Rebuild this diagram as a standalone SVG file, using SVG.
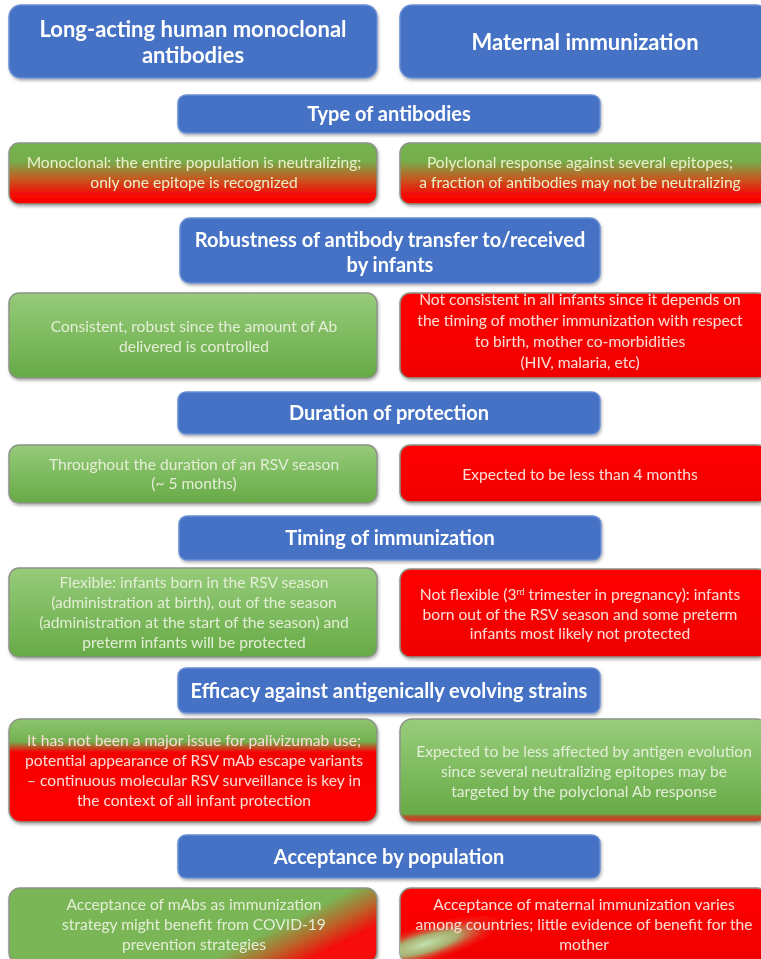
<svg xmlns="http://www.w3.org/2000/svg" width="761" height="959" viewBox="0 0 761 959">
<defs>
<style>
.hdr{fill:#4472c4;stroke:#6a8fd4;stroke-width:1.5}
.bx{stroke:#8c9486;stroke-width:1.5}
.ht{font-family:Lato,"Liberation Sans",sans-serif;font-weight:bold;fill:#ffffff;text-anchor:middle}
.h1{font-size:22px}
.h2{font-size:20px}
.bt{font-family:Lato,"Liberation Sans",sans-serif;font-size:15.6px;text-anchor:middle}
.tg{fill:#e3eed6}
.tr{fill:#fbdcd6}
.ty{fill:#ecefc8}
</style>
<linearGradient id="gGreen" x1="0" y1="0" x2="0" y2="1">
<stop offset="0" stop-color="#96cb7a"/>
<stop offset="1" stop-color="#67aa46"/>
</linearGradient>
<linearGradient id="gRed" x1="0" y1="0" x2="0" y2="1">
<stop offset="0" stop-color="#ff0606"/>
<stop offset="1" stop-color="#f00000"/>
</linearGradient>
<linearGradient id="gGR" x1="0" y1="0" x2="0" y2="1">
<stop offset="0" stop-color="#74b450"/>
<stop offset="0.3" stop-color="#76ad4c"/>
<stop offset="0.6" stop-color="#c8561f"/>
<stop offset="0.85" stop-color="#f30a06"/>
<stop offset="1" stop-color="#ff0000"/>
</linearGradient>
<linearGradient id="gEffL" x1="0" y1="0" x2="0" y2="1">
<stop offset="0" stop-color="#8fc670"/>
<stop offset="0.22" stop-color="#72b04f"/>
<stop offset="0.32" stop-color="#f50404"/>
<stop offset="1" stop-color="#ff0000"/>
</linearGradient>
<linearGradient id="gEffR" x1="0" y1="0" x2="0" y2="1">
<stop offset="0" stop-color="#98cd7c"/>
<stop offset="0.92" stop-color="#68ab47"/>
<stop offset="0.95" stop-color="#b4532b"/>
<stop offset="1" stop-color="#d23a22"/>
</linearGradient>
<linearGradient id="gAccL" gradientUnits="userSpaceOnUse" x1="426" y1="852" x2="446" y2="892">
<stop offset="0" stop-color="#7ab656"/>
<stop offset="0.5" stop-color="#b7672a"/>
<stop offset="1" stop-color="#f80808"/>
</linearGradient>
<radialGradient id="gAccR" cx="0.5" cy="0.5" r="0.5">
<stop offset="0" stop-color="#c2e2ae" stop-opacity="1"/>
<stop offset="0.4" stop-color="#9ccb82" stop-opacity="0.85"/>
<stop offset="1" stop-color="#ff0000" stop-opacity="0"/>
</radialGradient>
<filter id="sh" x="-5%" y="-10%" width="110%" height="130%">
<feDropShadow dx="1" dy="2" stdDeviation="1.5" flood-color="#000000" flood-opacity="0.3"/>
</filter>
<clipPath id="cAccR"><rect x="400" y="888" width="368" height="75" rx="11"/></clipPath>
</defs>
<rect width="761" height="959" fill="#ffffff"/>

<g id="mabs-title" filter="url(#sh)">
<rect class="hdr" x="9" y="5" width="368" height="73" rx="12"/>
<text class="ht h1" x="193" y="37">Long-acting human monoclonal</text>
<text class="ht h1" x="193" y="63">antibodies</text>
</g>
<g id="maternal-title" filter="url(#sh)">
<rect class="hdr" x="400" y="5" width="368" height="73" rx="12"/>
<text class="ht h1" x="585" y="50">Maternal immunization</text>
</g>

<g id="type-header" filter="url(#sh)">
<rect class="hdr" x="178" y="95" width="422" height="38" rx="8"/>
<text class="ht h2" x="389" y="121">Type of antibodies</text>
</g>
<g id="type-left" filter="url(#sh)">
<rect class="bx" x="9" y="143" width="368" height="61" rx="10" fill="url(#gGR)"/>
<text class="bt ty" x="194" y="168">Monoclonal: the entire population is neutralizing;</text>
<text class="bt ty" x="194" y="188">only one epitope is recognized</text>
</g>
<g id="type-right" filter="url(#sh)">
<rect class="bx" x="400" y="143" width="368" height="61" rx="10" fill="url(#gGR)"/>
<text class="bt ty" x="580" y="168">Polyclonal response against several epitopes;</text>
<text class="bt ty" x="580" y="188">a fraction of antibodies may not be neutralizing</text>
</g>

<g id="robust-header" filter="url(#sh)">
<rect class="hdr" x="180" y="218" width="420" height="65" rx="10"/>
<text class="ht h2" x="390" y="247">Robustness of antibody transfer to/received</text>
<text class="ht h2" x="390" y="272">by infants</text>
</g>
<g id="robust-left" filter="url(#sh)">
<rect class="bx" x="9" y="293" width="368" height="85" rx="10" fill="url(#gGreen)"/>
<text class="bt tg" x="194" y="332">Consistent, robust since the amount of Ab</text>
<text class="bt tg" x="194" y="352">delivered is controlled</text>
</g>
<g id="robust-right" filter="url(#sh)">
<rect class="bx" x="400" y="293" width="368" height="85" rx="10" fill="url(#gRed)"/>
<text class="bt tr" x="580" y="305">Not consistent in all infants since it depends on</text>
<text class="bt tr" x="580" y="326">the timing of mother immunization with respect</text>
<text class="bt tr" x="580" y="347">to birth, mother co-morbidities</text>
<text class="bt tr" x="580" y="368">(HIV, malaria, etc)</text>
</g>

<g id="duration-header" filter="url(#sh)">
<rect class="hdr" x="178" y="392" width="422" height="42" rx="8"/>
<text class="ht h2" x="389" y="420">Duration of protection</text>
</g>
<g id="duration-left" filter="url(#sh)">
<rect class="bx" x="9" y="445" width="368" height="58" rx="10" fill="url(#gGreen)"/>
<text class="bt tg" x="194" y="470">Throughout the duration of an RSV season</text>
<text class="bt tg" x="194" y="489">(~ 5 months)</text>
</g>
<g id="duration-right" filter="url(#sh)">
<rect class="bx" x="400" y="445" width="368" height="57" rx="10" fill="url(#gRed)"/>
<text class="bt tr" x="580" y="480">Expected to be less than 4 months</text>
</g>

<g id="timing-header" filter="url(#sh)">
<rect class="hdr" x="179" y="516" width="422" height="44" rx="8"/>
<text class="ht h2" x="390" y="545">Timing of immunization</text>
</g>
<g id="timing-left" filter="url(#sh)">
<rect class="bx" x="9" y="568" width="368" height="89" rx="10" fill="url(#gGreen)"/>
<text class="bt tg" x="194" y="588">Flexible: infants born in the RSV season</text>
<text class="bt tg" x="194" y="608">(administration at birth), out of the season</text>
<text class="bt tg" x="194" y="628">(administration at the start of the season) and</text>
<text class="bt tg" x="194" y="648">preterm infants will be protected</text>
</g>
<g id="timing-right" filter="url(#sh)">
<rect class="bx" x="400" y="569" width="368" height="88" rx="10" fill="url(#gRed)"/>
<text class="bt tr" x="580" y="600">Not flexible (3<tspan font-size="9" dy="-5">rd</tspan><tspan dy="5"> trimester in pregnancy): infants</tspan></text>
<text class="bt tr" x="580" y="620">born out of the RSV season and some preterm</text>
<text class="bt tr" x="580" y="639">infants most likely not protected</text>
</g>

<g id="efficacy-header" filter="url(#sh)">
<rect class="hdr" x="178" y="668" width="422" height="45" rx="8"/>
<text class="ht h2" x="389" y="698">Efficacy against antigenically evolving strains</text>
</g>
<g id="efficacy-left" filter="url(#sh)">
<rect class="bx" x="9" y="719" width="368" height="103" rx="12" fill="url(#gEffL)"/>
<text class="bt tr" x="194" y="746">It has not been a major issue for palivizumab use;</text>
<text class="bt tr" x="194" y="766">potential appearance of RSV mAb escape variants</text>
<text class="bt tr" x="194" y="786">– continuous molecular RSV surveillance is key in</text>
<text class="bt tr" x="194" y="806">the context of all infant protection</text>
</g>
<g id="efficacy-right" filter="url(#sh)">
<rect class="bx" x="400" y="719" width="368" height="103" rx="12" fill="url(#gEffR)"/>
<text class="bt tg" x="584" y="757">Expected to be less affected by antigen evolution</text>
<text class="bt tg" x="584" y="777">since several neutralizing epitopes may be</text>
<text class="bt tg" x="584" y="797">targeted by the polyclonal Ab response</text>
</g>

<g id="acceptance-header" filter="url(#sh)">
<rect class="hdr" x="178" y="835" width="422" height="43" rx="8"/>
<text class="ht h2" x="389" y="864">Acceptance by population</text>
</g>
<g id="acceptance-left" filter="url(#sh)">
<rect class="bx" x="9" y="888" width="368" height="75" rx="11" fill="url(#gAccL)"/>
<text class="bt tg" x="194" y="910">Acceptance of mAbs as immunization</text>
<text class="bt tg" x="194" y="930">strategy might benefit from COVID-19</text>
<text class="bt tg" x="194" y="950">prevention strategies</text>
</g>
<g id="acceptance-right" filter="url(#sh)">
<rect class="bx" x="400" y="888" width="368" height="75" rx="11" fill="url(#gRed)"/>
<g clip-path="url(#cAccR)">
<ellipse cx="425" cy="944" rx="85" ry="20" fill="url(#gAccR)" transform="rotate(-16 425 944)"/>
</g>
<text class="bt tr" x="584" y="910">Acceptance of maternal immunization varies</text>
<text class="bt tr" x="584" y="930">among countries; little evidence of benefit for the</text>
<text class="bt tr" x="584" y="950">mother</text>
</g>

<g id="connectors"></g>
</svg>
